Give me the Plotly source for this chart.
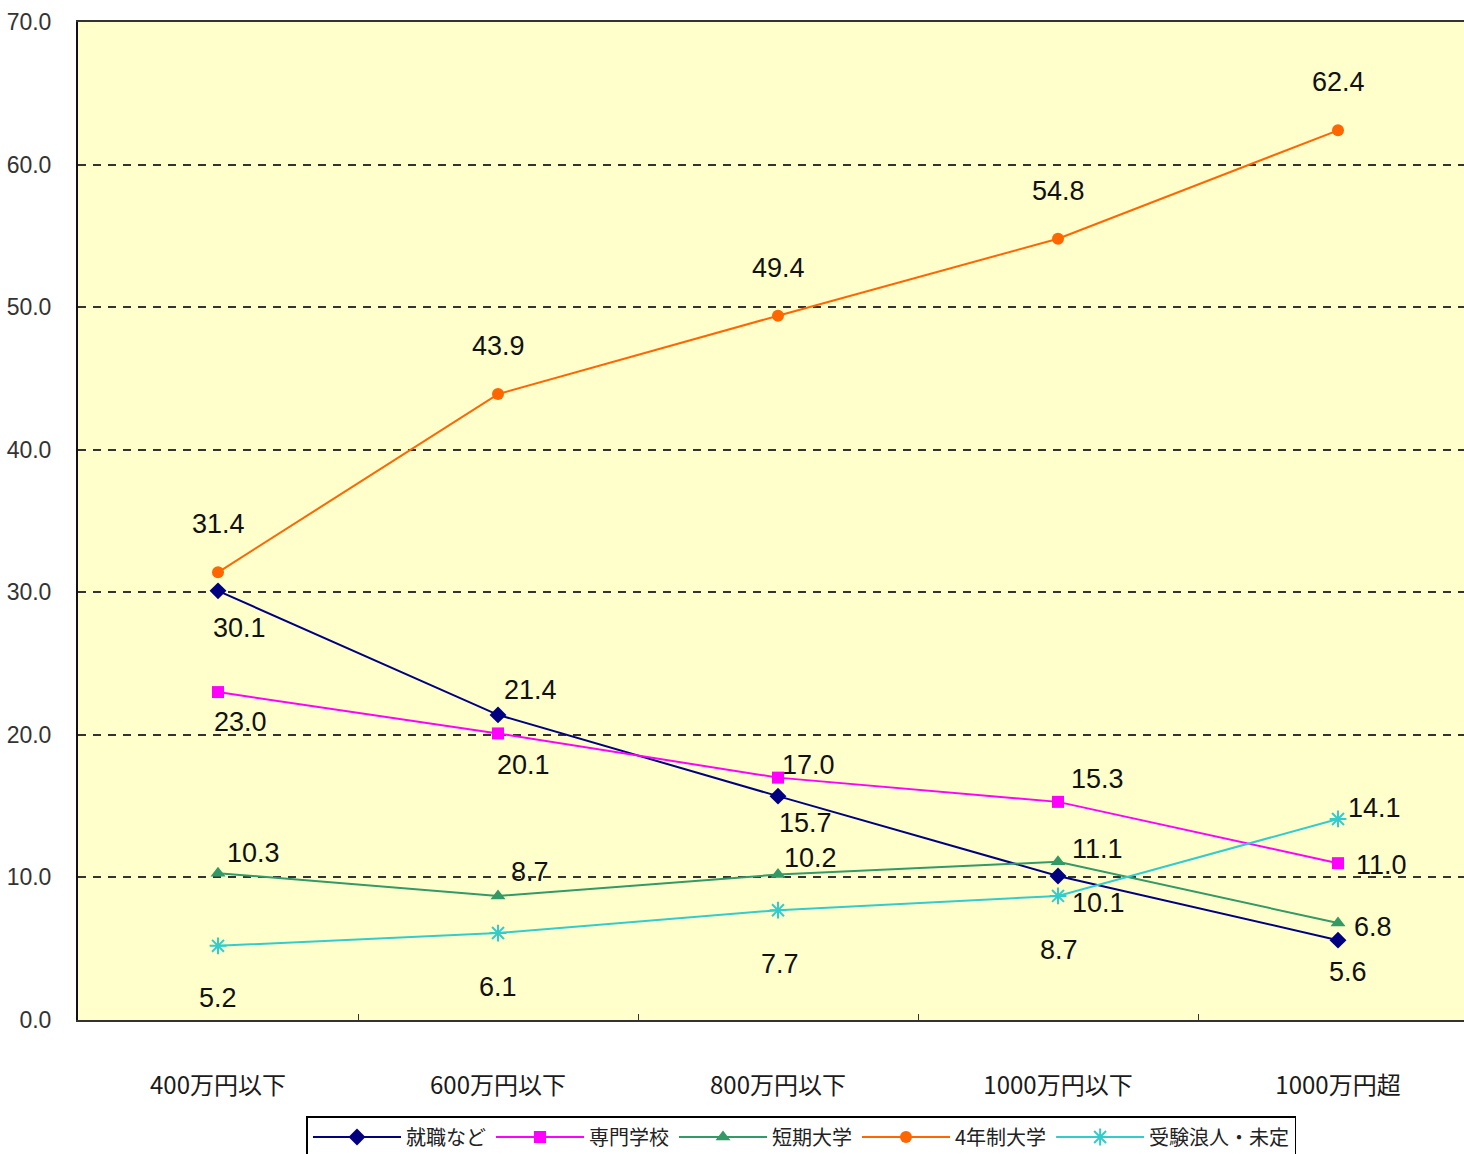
import plotly.graph_objects as go

categories = ["400万円以下", "600万円以下", "800万円以下", "1000万円以下", "1000万円超"]
series_names = ["就職など", "専門学校", "短期大学", "4年制大学", "受験浪人・未定"]
shushoku = [30.1, 21.4, 15.7, 10.1, 5.6]
senmon = [23.0, 20.1, 17.0, 15.3, 11.0]
tanki = [10.3, 8.7, 10.2, 11.1, 6.8]
yonen = [31.4, 43.9, 49.4, 54.8, 62.4]
ronin = [5.2, 6.1, 7.7, 8.7, 14.1]
y_ticks = [0, 10, 20, 30, 40, 50, 60, 70]

values = [shushoku, senmon, tanki, yonen, ronin]
colors = ["#000080", "#FF00FF", "#339966", "#FF6600", "#33CCCC"]
symbols = ["diamond", "square", "triangle-up", "circle", "asterisk-open"]
msizes = [13, 12, 13, 12, 14]

# label offsets in pixels (dx right, dy down) relative to each point
offsets = [
    [(21, 37), (32, -25), (27, 27), (40, 27), (10, 32)],
    [(22, 30), (25, 32), (30, -13), (39, -23), (43, 2)],
    [(35, -20), (32, -24), (32, -17), (39, -13), (35, 4)],
    [(0, -48), (0, -48), (0, -48), (0, -48), (0, -48)],
    [(0, 52), (0, 54), (2, 54), (1, 54), (36, -11)],
]

LABEL_FONT = "Liberation Sans Narrow, Arial Narrow, Liberation Sans, Arial, sans-serif"
CJK_FONT = "Noto Sans CJK JP, sans-serif"

fig = go.Figure()
for name, vals, col, sym, ms in zip(series_names, values, colors, symbols, msizes):
    fig.add_trace(go.Scatter(
        x=categories, y=vals, name=name, mode="lines+markers",
        line=dict(color=col, width=2),
        marker=dict(symbol=sym, size=ms, color=col,
                    line=dict(color=col, width=2 if sym == "asterisk-open" else 0)),
    ))

annotations = []
for vals, offs in zip(values, offsets):
    for cat, v, (dx, dy) in zip(categories, vals, offs):
        annotations.append(dict(
            x=cat, y=v, xref="x", yref="y", text=f"{v:.1f}", showarrow=False,
            xshift=dx, yshift=-dy,
            font=dict(family=LABEL_FONT, size=27, color="#111111"),
        ))

fig.update_layout(
    width=1464, height=1154,
    margin=dict(l=78, r=0, t=22, b=134, autoexpand=False),
    paper_bgcolor="white",
    plot_bgcolor="#FFFFCC",
    showlegend=True,
    legend=dict(
        orientation="h", x=0.522, xanchor="center", y=-0.0962, yanchor="top",
        bordercolor="#000000", borderwidth=1.5, bgcolor="white",
        font=dict(family=CJK_FONT, size=20, color="#222222"),
        itemwidth=88, tracegroupgap=0,
    ),
    annotations=annotations,
)

fig.update_xaxes(
    type="category", range=[-0.5, 4.45], automargin=False,
    showline=True, linecolor="#333333", linewidth=2, mirror=True,
    showgrid=False, ticks="inside", ticklen=6, tickcolor="#333333", tickwidth=1,
    tickson="boundaries", ticklabelstandoff=43,
    tickfont=dict(family=CJK_FONT, size=24, color="#1a1a1a"),
)
fig.update_yaxes(
    range=[0, 70], tickvals=y_ticks, tickformat=".1f", automargin=False,
    showline=True, linecolor="#111111", linewidth=2,
    showgrid=True, gridcolor="#333333", gridwidth=2, griddash="8px,7px",
    zeroline=False, ticks="", ticklabelstandoff=20,
    tickfont=dict(family=LABEL_FONT, size=23, color="#333333"),
)

fig.write_html(
    "out.html",
    config={"displayModeBar": False},
    post_script="document.body.style.margin='0';document.body.style.overflow='hidden';",
)
